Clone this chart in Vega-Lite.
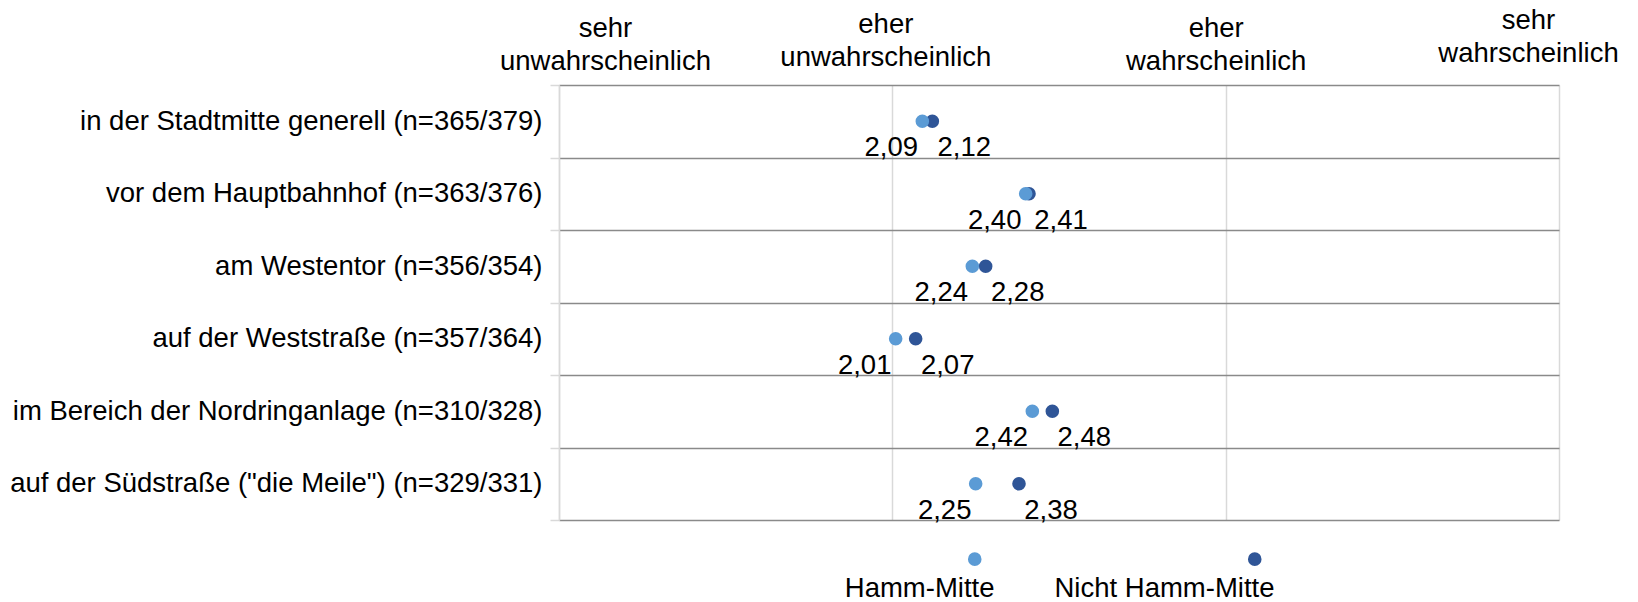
{
  "$schema": "https://vega.github.io/schema/vega-lite/v6.json",
  "autosize": {"type": "none"},
  "padding": {"left": 559, "top": 85, "right": 79, "bottom": 82},
  "width": 1000,
  "height": 435,
  "background": "white",
  "config": {
    "view": {"stroke": null},
    "font": "Liberation Sans",
    "locale": {"number": {"decimal": ",", "thousands": ".", "grouping": [3], "currency": ["", " €"]}}
  },
  "data": {
    "values": [
      {"ort": "in der Stadtmitte generell (n=365/379)", "gruppe": "Nicht Hamm-Mitte", "wert": 2.12},
      {"ort": "in der Stadtmitte generell (n=365/379)", "gruppe": "Hamm-Mitte", "wert": 2.09},
      {"ort": "vor dem Hauptbahnhof (n=363/376)", "gruppe": "Nicht Hamm-Mitte", "wert": 2.41},
      {"ort": "vor dem Hauptbahnhof (n=363/376)", "gruppe": "Hamm-Mitte", "wert": 2.40},
      {"ort": "am Westentor (n=356/354)", "gruppe": "Nicht Hamm-Mitte", "wert": 2.28},
      {"ort": "am Westentor (n=356/354)", "gruppe": "Hamm-Mitte", "wert": 2.24},
      {"ort": "auf der Weststraße (n=357/364)", "gruppe": "Nicht Hamm-Mitte", "wert": 2.07},
      {"ort": "auf der Weststraße (n=357/364)", "gruppe": "Hamm-Mitte", "wert": 2.01},
      {"ort": "im Bereich der Nordringanlage (n=310/328)", "gruppe": "Nicht Hamm-Mitte", "wert": 2.48},
      {"ort": "im Bereich der Nordringanlage (n=310/328)", "gruppe": "Hamm-Mitte", "wert": 2.42},
      {"ort": "auf der Südstraße (\"die Meile\") (n=329/331)", "gruppe": "Nicht Hamm-Mitte", "wert": 2.38},
      {"ort": "auf der Südstraße (\"die Meile\") (n=329/331)", "gruppe": "Hamm-Mitte", "wert": 2.25}
    ]
  },
  "encoding": {
    "y": {
      "field": "ort",
      "type": "nominal",
      "sort": null,
      "scale": {"paddingInner": 0, "paddingOuter": 0},
      "axis": {
        "title": null,
        "tickBand": "extent",
        "grid": true,
        "gridColor": "#8a8a8a",
        "gridWidth": 1.5,
        "domainColor": "#d9d9d9",
        "domainWidth": 1.5,
        "tickColor": "#d9d9d9",
        "tickWidth": 1.5,
        "tickSize": 9,
        "labelPadding": 8,
        "labelFontSize": 27.5,
        "labelColor": "#000000",
        "labelLimit": 0
      }
    },
    "x": {
      "field": "wert",
      "type": "quantitative",
      "scale": {"domain": [1, 4], "nice": false, "zero": false},
      "axis": {
        "orient": "top",
        "title": null,
        "values": [1, 2, 3, 4],
        "grid": true,
        "gridColor": "#d9d9d9",
        "gridWidth": 1.5,
        "domain": false,
        "ticks": false,
        "labelFontSize": 27.5,
        "labelColor": "#000000",
        "labelLineHeight": 33,
        "labelBaseline": "bottom",
        "labelFlush": false,
        "labelOverlap": false,
        "labelLimit": 0,
        "labelExpr": "datum.value == 1 ? ['sehr', 'unwahrscheinlich'] : datum.value == 2 ? ['eher', 'unwahrscheinlich'] : datum.value == 3 ? ['eher', 'wahrscheinlich'] : ['sehr', 'wahrscheinlich']",
        "labelOffset": {"condition": [{"test": "datum.value == 1", "value": 46}, {"test": "datum.value == 2", "value": -7}, {"test": "datum.value == 3", "value": -10}], "value": -31},
        "labelPadding": {"condition": [{"test": "datum.value == 2", "value": 46.5}, {"test": "datum.value == 4", "value": 51}], "value": 43}
      }
    }
  },
  "layer": [
    {
      "mark": {"type": "point", "filled": true, "size": 185, "opacity": 1},
      "encoding": {
        "color": {
          "field": "gruppe",
          "type": "nominal",
          "scale": {"domain": ["Hamm-Mitte", "Nicht Hamm-Mitte"], "range": ["#5B9BD5", "#2F5597"]},
          "legend": {
            "orient": "none",
            "legendX": 402,
            "legendY": 460,
            "direction": "horizontal",
            "title": null,
            "symbolType": "circle",
            "symbolSize": 185,
            "symbolStrokeWidth": 0,
            "labelFontSize": 27.5,
            "labelColor": "#000000",
            "labelAlign": "right",
            "labelOffset": 6,
            "labelBaseline": "middle",
            "labelExpr": "['', '', datum.label]",
            "columnPadding": 59,
            "labelLimit": 0
          }
        }
      }
    },
    {
      "transform": [{"filter": "datum.gruppe == 'Hamm-Mitte'"}],
      "mark": {"type": "text", "dx": -31, "dy": 35, "fontSize": 27.5, "baseline": "alphabetic", "align": "center", "color": "#000000"},
      "encoding": {"text": {"field": "wert", "type": "quantitative", "format": ".2f"}}
    },
    {
      "transform": [{"filter": "datum.gruppe == 'Nicht Hamm-Mitte'"}],
      "mark": {"type": "text", "dx": 32, "dy": 35, "fontSize": 27.5, "baseline": "alphabetic", "align": "center", "color": "#000000"},
      "encoding": {"text": {"field": "wert", "type": "quantitative", "format": ".2f"}}
    }
  ]
}
